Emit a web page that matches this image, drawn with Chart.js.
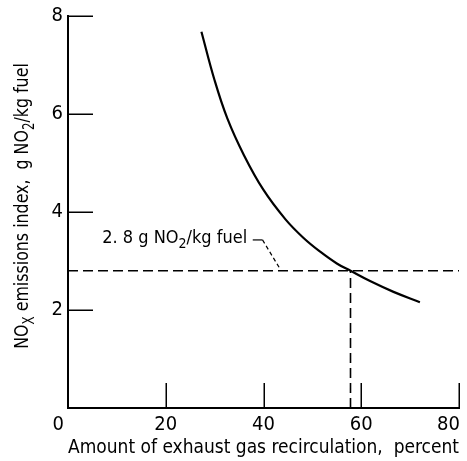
<!DOCTYPE html>
<html>
<head>
<meta charset="utf-8">
<script src="https://cdn.jsdelivr.net/npm/chart.js@4.4.1/dist/chart.umd.min.js"></script>
<style>
  html, body { margin: 0; padding: 0; background: #fff; }
  #wrap { width: 467px; height: 461px; }
</style>
</head>
<body>
<div id="wrap"><canvas id="c" width="467" height="461"></canvas></div>
<script>
// NOx emissions index versus exhaust gas recirculation
const recirculationPct = [27.3, 29.9, 32.6, 36.0, 40.0, 44.5, 48.2, 51.6, 55.0, 57.8, 61.8, 66.6, 72.0];
const noxIndex         = [7.68, 6.72, 5.91, 5.16, 4.45, 3.85, 3.47, 3.19, 2.95, 2.80, 2.59, 2.37, 2.16];

// 2.8 g NO2/kg fuel target and the recirculation that reaches it
const targetIndex = 2.8;
const targetRecirc = 57.8;

// leader from the note down to the target line
const leaderX = [37.8, 39.8, 43.5];
const leaderY = [3.43, 3.43, 2.82];

const xTickValues = [0, 20, 40, 60, 80];
const yTickValues = [0, 2, 4, 6, 8];

const FONT = '"Liberation Sans Narrow", "DejaVu Sans Condensed", "Roboto Condensed", "Liberation Sans", sans-serif';
const INK = '#000';

const toPoints = (xs, ys) => xs.map((v, i) => ({ x: v, y: ys[i] }));

// text with subscripts: segments of {t, sub}
function richWidth(ctx, segs, size) {
  let w = 0;
  segs.forEach(s => {
    ctx.font = `${s.sub ? Math.round(size * 0.75) : size}px ${FONT}`;
    w += ctx.measureText(s.t).width;
  });
  return w;
}
function drawRich(ctx, segs, x, y, size) {
  let cx = x;
  ctx.textBaseline = 'alphabetic';
  ctx.textAlign = 'left';
  segs.forEach(s => {
    const fs = s.sub ? Math.round(size * 0.75) : size;
    ctx.font = `${fs}px ${FONT}`;
    ctx.fillText(s.t, cx, y + (s.sub ? size * 0.3 : 0));
    cx += ctx.measureText(s.t).width;
  });
}

const yTitle = [
  { t: 'NO' }, { t: 'X', sub: true }, { t: ' emissions index,  g NO' }, { t: '2', sub: true }, { t: '/kg fuel' }
];
const noteText = [
  { t: '2. 8 g NO' }, { t: '2', sub: true }, { t: '/kg fuel' }
];
const noteAt = { x: 7.0, y: 3.37 };

const decorations = {
  id: 'decorations',
  afterDatasetsDraw(chart) {
    const { ctx, scales: { x, y } } = chart;
    ctx.save();
    // inward tick marks
    ctx.strokeStyle = INK;
    ctx.lineWidth = 1.5;
    ctx.beginPath();
    xTickValues.slice(1).forEach(v => {
      const px = Math.round(x.getPixelForValue(v)) + 0.25;
      ctx.moveTo(px, y.bottom);
      ctx.lineTo(px, y.bottom - 25);
    });
    yTickValues.slice(1).forEach(v => {
      const py = Math.round(y.getPixelForValue(v)) + 0.25;
      ctx.moveTo(x.left, py);
      ctx.lineTo(x.left + 25, py);
    });
    ctx.stroke();

    ctx.fillStyle = INK;

    // x tick labels; the end labels are pulled in toward the plot
    ctx.font = `20px ${FONT}`;
    ctx.textBaseline = 'alphabetic';
    x.ticks.forEach((t, i) => {
      const px = x.getPixelForValue(t.value);
      const last = x.ticks.length - 1;
      if (i === 0) { ctx.textAlign = 'right'; ctx.fillText(String(t.value), px - 4, 430); }
      else if (i === last) { ctx.textAlign = 'right'; ctx.fillText(String(t.value), px + 1, 430); }
      else { ctx.textAlign = 'center'; ctx.fillText(String(t.value), px, 430); }
    });

    // note label
    drawRich(ctx, noteText, x.getPixelForValue(noteAt.x), y.getPixelForValue(noteAt.y), 18);

    // vertical axis title, set slightly condensed along its length
    const size = 20;
    const squeeze = 0.88;
    const w = richWidth(ctx, yTitle, size);
    ctx.translate(28, (y.top + y.bottom) / 2 - 6);
    ctx.rotate(-Math.PI / 2);
    ctx.scale(squeeze, 1);
    drawRich(ctx, yTitle, -w / 2, 0, size);
    ctx.restore();
  }
};

new Chart(document.getElementById('c'), {
  type: 'line',
  data: {
    datasets: [
      {
        data: toPoints(recirculationPct, noxIndex),
        borderColor: INK,
        borderWidth: 2.2,
        pointRadius: 0,
        tension: 0.4,
        fill: false
      },
      {
        data: toPoints([xTickValues[0], xTickValues[xTickValues.length - 1]], [targetIndex, targetIndex]),
        borderColor: INK,
        borderWidth: 1.6,
        borderDash: [10, 5],
        pointRadius: 0,
        fill: false
      },
      {
        data: toPoints([targetRecirc, targetRecirc], [yTickValues[0], targetIndex]),
        borderColor: INK,
        borderWidth: 1.6,
        borderDash: [10, 5],
        pointRadius: 0,
        fill: false
      },
      {
        data: toPoints(leaderX, leaderY),
        borderColor: INK,
        borderWidth: 1.2,
        pointRadius: 0,
        fill: false,
        segment: {
          borderDash: ctx => ctx.p0DataIndex === 1 ? [4, 3] : undefined
        }
      }
    ]
  },
  options: {
    responsive: false,
    animation: false,
    devicePixelRatio: 1,
    layout: { padding: { top: 16, right: 8, left: 0, bottom: 0 } },
    plugins: { legend: { display: false }, tooltip: { enabled: false } },
    scales: {
      x: {
        type: 'linear',
        min: 0,
        max: 80,
        afterBuildTicks: s => { s.ticks = xTickValues.map(v => ({ value: v })); },
        afterFit: s => { s.height = 53; s.paddingLeft = 0; s.paddingRight = 0; },
        grid: { display: false, drawTicks: false },
        border: { display: true, color: INK, width: 2 },
        ticks: { display: false },
        title: {
          display: true,
          text: 'Amount of exhaust gas recirculation,  percent',
          color: INK,
          font: { family: FONT, size: 20 },
          padding: { top: 0, bottom: 1 }
        }
      },
      y: {
        type: 'linear',
        min: 0,
        max: 8,
        afterBuildTicks: s => { s.ticks = yTickValues.map(v => ({ value: v })); },
        afterFit: s => { s.width = 68; s.paddingTop = 0; s.paddingBottom = 0; },
        grid: { display: false, drawTicks: false },
        border: { display: true, color: INK, width: 2 },
        ticks: {
          color: INK,
          font: { family: FONT, size: 20 },
          padding: 5,
          callback: v => (v === 0 ? '' : v)
        }
      }
    }
  },
  plugins: [decorations]
});
</script>
</body>
</html>
